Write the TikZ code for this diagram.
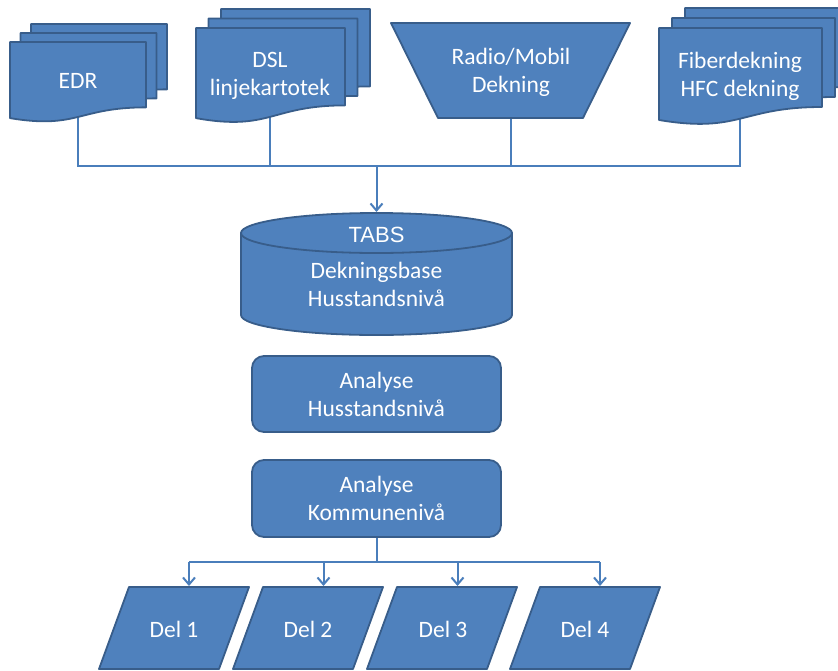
\documentclass[tikz,border=0pt]{standalone}
\usepackage{fontspec}
\setmainfont{Carlito}
\newfontfamily\arialf{Liberation Sans}
\usetikzlibrary{arrows.meta}
\definecolor{boxfill}{HTML}{4F81BD}
\definecolor{boxline}{HTML}{385D8A}
\definecolor{connc}{HTML}{4A7EBB}
\pgfdeclarelayer{bg}
\pgfsetlayers{bg,main}
\newcommand\docshape[4]{\path[shp] (#1,#2) -- ({#1+#3},#2) -- ({#1+#3},{#2+0.802*#4}) .. controls ({#1+0.5*#3},{#2+0.802*#4}) and ({#1+0.5*#3},{#2+1.072*#4}) .. (#1,{#2+0.934*#4}) -- cycle;}
\newcommand\delshape[1]{\path[shp] (#1,587) -- ({#1+120},587) -- ({#1+90},669) -- ({#1-30},669) -- cycle;}
\begin{document}
\begin{tikzpicture}[x=1pt,y=-1pt,
  shp/.style={fill=boxfill,draw=boxline,line width=1.8pt,line join=round},
  lbl/.style={text=white,font=\fontsize{23.5}{28}\selectfont,align=center,inner sep=0pt},
  conn/.style={draw=connc,line width=2pt},
  arr/.style={-{Straight Barb[length=7pt,width=12pt,line width=2pt]}},
  rbox/.style={shp,rounded corners=12pt,minimum width=249pt,inner sep=0pt,lbl}]
\useasboundingbox (0,0) rectangle (838,670);
% EDR
\docshape{31}{24}{136}{81.5}
\docshape{20.5}{33}{136}{81.5}
\docshape{10}{42}{136}{81.5}
\node[lbl] (edr) at (78,81) {EDR};
% DSL
\docshape{221}{9}{149}{96.5}
\docshape{208.5}{18.5}{149}{96.5}
\docshape{196}{28}{149}{96.5}
\node[lbl] (dsl) at (270,76) {DSL\\linjekartotek};
% Radio
\path[shp] (391,23) -- (630,23) -- (583,118) -- (438,118) -- cycle;
\node[lbl] (rad) at (511,72) {Radio/Mobil\\Dekning};
% Fiber
\docshape{685}{8}{163}{98.5}
\docshape{672}{18}{163}{98.5}
\docshape{659}{28}{163}{98.5}
\node[lbl] (fib) at (740,76) {Fiberdekning\\HFC dekning};
% bus
\coordinate (bus) at (376.5,166);
\coordinate (cyltop) at (376.5,212);
\begin{pgfonlayer}{bg}
\draw[conn] (edr.center) |- (fib |- bus) -- (fib.center);
\draw[conn] (dsl.center) -- (dsl |- bus);
\draw[conn] (rad.center) -- (rad |- bus);
\end{pgfonlayer}
% Cylinder
\path[shp] (512,233) -- (241,233) -- (241,315) arc[start angle=180,end angle=0,x radius=135.5,y radius=20] -- cycle;
\path[shp] (376.5,233) ellipse [x radius=135.5, y radius=20];
\node[text=white,font=\arialf\fontsize{22}{26}\selectfont,inner sep=0pt] (tabs) at (376.5,235) {TABS};
\node[lbl] (dek) at (376.5,284) {Dekningsbase\\Husstandsnivå};
\draw[conn,arr] (bus) -- (cyltop);
% Analyse boxes
\node[rbox,minimum height=76pt] (a1) at (376.5,394) {Analyse\\Husstandsnivå};
\node[rbox,minimum height=77pt] (a2) at (376.5,498.5) {Analyse\\Kommunenivå};
% Del
\delshape{129}
\delshape{263}
\delshape{397}
\delshape{540}
\node[lbl] (d1) at (174,629) {Del 1};
\node[lbl] (d2) at (308,629) {Del 2};
\node[lbl] (d3) at (443,629) {Del 3};
\node[lbl] (d4) at (585,629) {Del 4};
\coordinate (split) at (376.5,562);
\coordinate (d1t) at (189,586);
\coordinate (d2t) at (323.5,586);
\coordinate (d3t) at (457.5,586);
\coordinate (d4t) at (600,586);
\draw[conn] (a2.south) -- (split);
\draw[conn] (d1t |- split) -- (d4t |- split);
\draw[conn,arr] (d1t |- split) -- (d1t);
\draw[conn,arr] (d2t |- split) -- (d2t);
\draw[conn,arr] (d3t |- split) -- (d3t);
\draw[conn,arr] (d4t |- split) -- (d4t);
\end{tikzpicture}
\end{document}
